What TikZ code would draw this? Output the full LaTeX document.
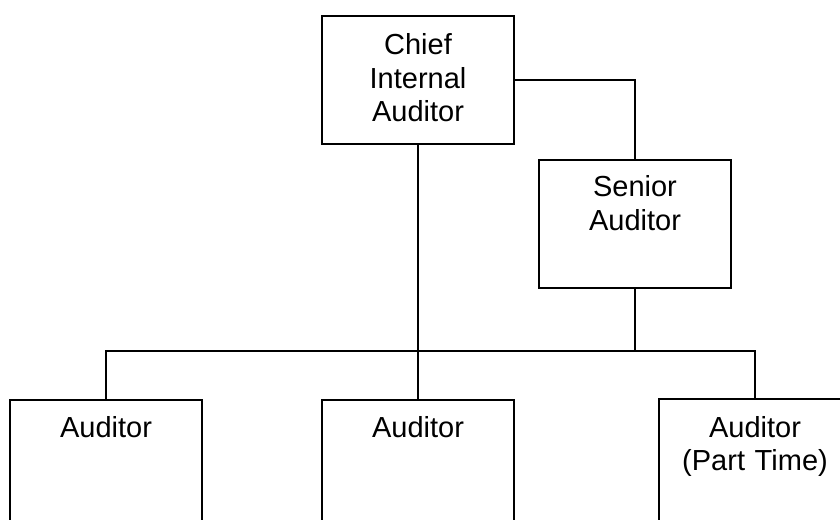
\documentclass[tikz,border=0pt]{standalone}
\usepackage{fontspec}
\setmainfont{Liberation Sans}
\begin{document}
\begin{tikzpicture}[x=1bp,y=-1bp,
  box/.style={draw=black, line width=2bp, fill=white, inner sep=0pt, minimum width=192bp, anchor=north west},
  txt/.style={align=center, text width=190bp, inner sep=0pt, anchor=base, font=\fontsize{29bp}{33.5bp}\selectfont},
  conn/.style={draw=black, line width=2bp}]
\useasboundingbox (0,0) rectangle (840,520);
\clip (0,0) rectangle (840,520);
\fill[white] (0,0) rectangle (840,520);
\node[box, minimum height=128bp] (chief) at (321,15) {};
\node[box, minimum height=128bp] (senior) at (538,159) {};
\node[box, minimum height=160bp] (aud1) at (9,399) {};
\node[box, minimum height=160bp] (aud2) at (321,399) {};
\node[box, minimum height=160bp] (aud3) at (658,398) {};
\node[txt] (chieft) at ([yshift=-40bp]chief.north) {Chief\\Internal\\Auditor};
\node[txt] (seniort) at ([yshift=-38bp]senior.north) {Senior\\Auditor};
\node[txt] (aud1t) at ([yshift=-38bp]aud1.north) {Auditor};
\node[txt] (aud2t) at ([yshift=-38bp]aud2.north) {Auditor};
\node[txt] (aud3t) at ([yshift=-39bp]aud3.north) {Auditor\\(Part Time)};
\coordinate (bus) at (417,351);
\draw[conn] (chief.east) -| (senior.north);
\draw[conn] (chief.south) -- (aud2.north);
\draw[conn] (aud1.north) |- (bus) -| (aud3.north);
\draw[conn] (senior.south) -- (senior.south |- bus);
\end{tikzpicture}
\end{document}
